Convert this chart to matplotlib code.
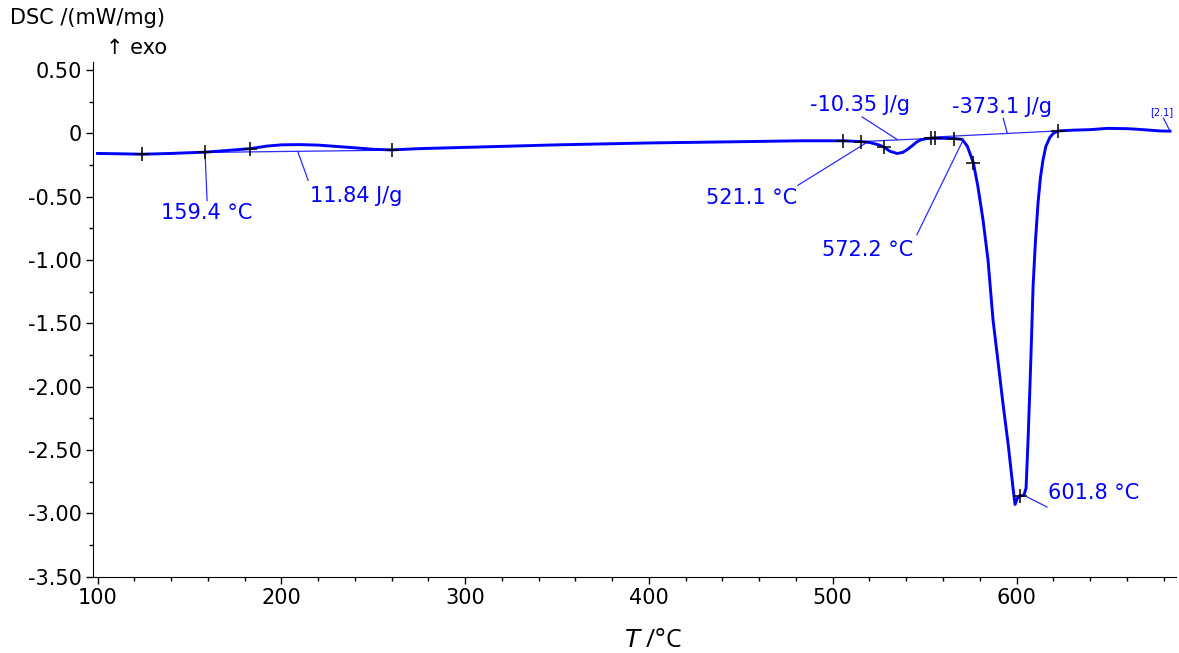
import matplotlib
matplotlib.use('Agg')
import matplotlib.pyplot as plt
from matplotlib.ticker import MultipleLocator, FuncFormatter

plt.rcParams['font.family'] = ['DejaVu Sans']
plt.rcParams['axes.unicode_minus'] = False

# DSC curve
temp = [100, 110, 124, 140, 150, 158.5, 170, 183, 192, 200, 210, 220, 237, 250,
        260, 275, 300, 350, 400, 450, 482, 505.6, 515.4, 520.3, 525, 528, 531,
        535, 538, 540.3, 543, 545.8, 548, 551.2, 555, 560, 566, 570.4, 573.2,
        576.5, 579, 581.8, 584.5, 587.2, 590, 592.6, 595.5, 598.1, 599.2, 600.5,
        601.9, 604, 605.2, 606.2, 607.3, 608.2, 609, 610.3, 611.7, 613, 614.4,
        616, 618.2, 620, 622.6, 630.7, 640, 649.2, 660, 667, 678, 683.5]
dsc = [-0.158, -0.16, -0.164, -0.158, -0.152, -0.148, -0.135, -0.12, -0.1, -0.09,
       -0.088, -0.092, -0.11, -0.125, -0.13, -0.12, -0.11, -0.09, -0.075, -0.065,
       -0.058, -0.058, -0.064, -0.072, -0.09, -0.108, -0.14, -0.158, -0.15, -0.13,
       -0.1, -0.066, -0.05, -0.04, -0.038, -0.038, -0.04, -0.047, -0.1, -0.23,
       -0.42, -0.685, -1.0, -1.47, -1.81, -2.13, -2.46, -2.80, -2.93, -2.88,
       -2.86, -2.86, -2.80, -2.45, -2.0, -1.6, -1.21, -0.85, -0.55, -0.35, -0.21,
       -0.1, -0.03, 0.0, 0.02, 0.026, 0.03, 0.04, 0.038, 0.032, 0.02, 0.018]

# evaluation marks (+)
mark_T = [124, 158.5, 183, 260, 505.6, 515.4, 528, 553.7, 555.5, 566, 576.5, 601.9, 622.6]
mark_dsc = [-0.164, -0.148, -0.12, -0.13, -0.058, -0.064, -0.108, -0.038, -0.038,
            -0.04, -0.23, -2.86, 0.02]

# baselines of the evaluated effects
base_hump_T = [158.5, 260]
base_hump_dsc = [-0.15, -0.132]
base_dip_T = [515.4, 555]
base_dip_dsc = [-0.064, -0.038]
base_main_T = [553, 622.6]
base_main_dsc = [-0.03, 0.02]

# labels: text, leader start, leader end, text position, alignment
labels = ['159.4 °C', '11.84 J/g', '521.1 °C', '-10.35 J/g', '572.2 °C',
          '-373.1 J/g', '601.8 °C']
lead_from = [(158.5, -0.15), (209, -0.145), (517.6, -0.08), (535, -0.047),
             (570.9, -0.053), (595, 0.0), (605.7, -2.87)]
lead_to = [(159.6, -0.53), (214.6, -0.37), (481, -0.41), (516, 0.13),
           (545.8, -0.80), (592.8, 0.12), (616.6, -2.95)]
text_pos = [(159.6, -0.63), (215.7, -0.49), (480.6, -0.51), (514.8, 0.226),
            (543.7, -0.92), (592.2, 0.21), (617, -2.84)]
text_ha = ['center', 'left', 'right', 'center', 'right', 'center', 'left']

fig = plt.figure(figsize=(11.79, 6.53), dpi=100)
ax = fig.add_axes([0.0789, 0.1169, 0.9186, 0.7881])

blue = '#0000ff'
thin = '#2a2aff'

ax.plot(temp, dsc, color=blue, lw=2.1, solid_joinstyle='round', zorder=3)
ax.plot(base_hump_T, base_hump_dsc, color=thin, lw=0.9, zorder=2)
ax.plot(base_dip_T, base_dip_dsc, color=thin, lw=0.9, zorder=2)
ax.plot(base_main_T, base_main_dsc, color=thin, lw=0.9, zorder=2)
ax.plot(mark_T, mark_dsc, ls='none', marker='+', ms=10, mew=1.1, color='black', zorder=4)

for i in range(len(labels)):
    ax.plot([lead_from[i][0], lead_to[i][0]], [lead_from[i][1], lead_to[i][1]],
            color=thin, lw=0.9, zorder=2)
    ax.text(text_pos[i][0], text_pos[i][1], labels[i], color=blue, fontsize=15,
            ha=text_ha[i], va='center')

# curve id tag at the end
ax.plot([683.5, 680], [0.018, 0.12], color=thin, lw=0.9)
ax.text(679.2, 0.17, '[2.1]', color=blue, fontsize=7, ha='center', va='center')

ax.set_xlim(97.55, 686.8)
ax.set_ylim(-3.5, 0.564)
ax.spines['top'].set_visible(False)
ax.spines['right'].set_visible(False)

ax.xaxis.set_major_locator(MultipleLocator(100))
ax.xaxis.set_minor_locator(MultipleLocator(20))
ax.yaxis.set_major_locator(MultipleLocator(0.5))
ax.yaxis.set_minor_locator(MultipleLocator(0.25))


def dsc_fmt(v, pos):
    if abs(v) < 1e-9:
        return '0'
    return '%.2f' % v


ax.yaxis.set_major_formatter(FuncFormatter(dsc_fmt))
ax.tick_params(which='major', direction='out', length=5, width=1, labelsize=15, pad=3)
ax.tick_params(which='minor', direction='out', length=3, width=1)

fig.text(0.0085, 0.972, 'DSC /(mW/mg)', fontsize=15, ha='left', va='center')
fig.text(0.09, 0.926, '↑ exo', fontsize=15, ha='left', va='center')

ax.set_xlabel('$T$ /°C', fontsize=18, family='Open Sans')
ax.xaxis.set_label_coords(0.517, -0.1)

fig.savefig('out.png', dpi=100)
